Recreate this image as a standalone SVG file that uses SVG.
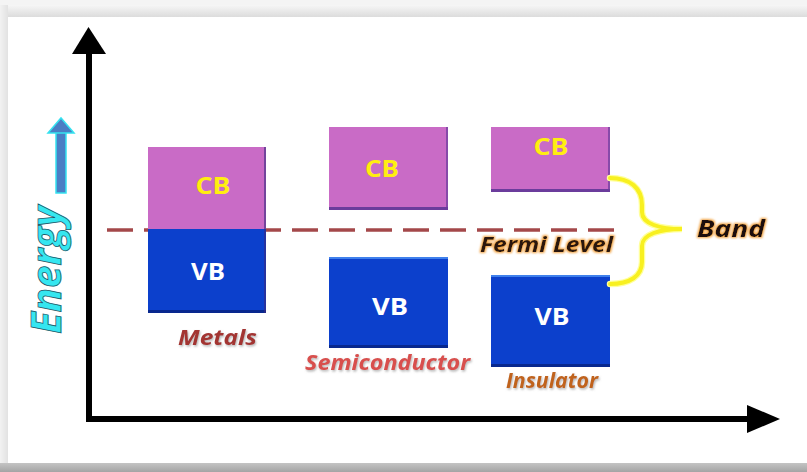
<svg xmlns="http://www.w3.org/2000/svg" width="807" height="472" viewBox="0 0 807 472">
<defs>
<style>
.cb{fill:#c96bc6}
.cbedge{fill:#6b3c9c}
.vb{fill:#0c40cc}
.vbtop{fill:#3f80ec}
.vbedge{fill:#08288e}
.bt{font-family:"Open Sans","DejaVu Sans",sans-serif;font-weight:bold;font-size:24px;text-anchor:middle}
.cbt{fill:#ffee10}
.vbt{fill:#ffffff}
.lab{font-family:"Open Sans","DejaVu Sans",sans-serif;font-weight:bold;font-style:italic;font-size:21px}
.ax{stroke:#000;stroke-width:6;fill:none}
</style>
<linearGradient id="topg" x1="0" y1="0" x2="0" y2="1">
<stop offset="0" stop-color="#f6f6f6"/><stop offset="1" stop-color="#dcdcdc"/>
</linearGradient>
<linearGradient id="botg" x1="0" y1="0" x2="0" y2="1">
<stop offset="0" stop-color="#c4c4c4"/><stop offset="1" stop-color="#a4a4a4"/>
</linearGradient>
<linearGradient id="leftg" x1="0" y1="0" x2="1" y2="0">
<stop offset="0" stop-color="#f2f2f2"/><stop offset="1" stop-color="#e2e2e2"/>
</linearGradient>
<filter id="glow" x="-20%" y="-50%" width="140%" height="200%">
<feMorphology in="SourceAlpha" operator="dilate" radius="1.3" result="d"/>
<feGaussianBlur in="d" stdDeviation="1.3" result="b"/>
<feFlood flood-color="#f2a445" result="c"/>
<feComposite in="c" in2="b" operator="in" result="g"/>
<feMerge><feMergeNode in="g"/><feMergeNode in="SourceGraphic"/></feMerge>
</filter>
<filter id="shadow" x="-10%" y="-30%" width="120%" height="160%">
<feDropShadow dx="1" dy="1.5" stdDeviation="1" flood-color="#777" flood-opacity="0.55"/>
</filter>
</defs>

<g id="background">
<rect x="0" y="0" width="807" height="472" fill="#f4f4f4"/>
<rect x="0" y="5" width="807" height="12" fill="url(#topg)"/>
<rect x="0" y="5" width="8" height="460" fill="url(#leftg)"/>
<rect x="8" y="17" width="799" height="446" fill="#ffffff"/>
<rect x="0" y="463" width="807" height="9" fill="url(#botg)"/>
</g>

<g id="axes">
<line class="ax" x1="89" y1="50" x2="89" y2="421"/>
<polygon points="72,54 88.5,27 106,54" fill="#000"/>
<line class="ax" x1="86" y1="419" x2="750" y2="419"/>
<polygon points="747,405 780,419 747,433" fill="#000"/>
</g>

<g id="energy-label">
<rect x="56" y="132" width="10" height="61" fill="#4a7ec4" stroke="#35e2f0" stroke-width="1.5"/>
<polygon points="48,133 61,118 74,133" fill="#4a7ec4" stroke="#35e2f0" stroke-width="1.5"/>
<text transform="translate(61,334) rotate(-90)" font-family="'Open Sans','DejaVu Sans',sans-serif" font-weight="bold" font-style="italic" font-size="42" fill="#35e6f0" stroke="#1b5a6a" stroke-width="0.8" textLength="128" lengthAdjust="spacingAndGlyphs">Energy</text>
</g>

<g id="fermi-level">
<line x1="107" y1="230" x2="614" y2="230" stroke="#a4484a" stroke-width="3.5" stroke-dasharray="26 11"/>
<text class="lab" x="480" y="252" font-size="22" fill="#2a1608" filter="url(#glow)" textLength="133" lengthAdjust="spacingAndGlyphs">Fermi Level</text>
</g>

<g id="metals">
<rect class="cb" x="148" y="147" width="118" height="82"/>
<rect class="vb" x="148" y="229" width="118" height="84"/>
<rect class="vbedge" x="148" y="310" width="118" height="3"/>
<rect x="264" y="147" width="2" height="166" fill="#3a2a80" opacity="0.6"/>
<text class="bt cbt" x="213" y="194" textLength="35" lengthAdjust="spacingAndGlyphs">CB</text>
<text class="bt vbt" x="208" y="280" textLength="34" lengthAdjust="spacingAndGlyphs">VB</text>
<text class="lab" x="178" y="345" fill="#a33432" filter="url(#shadow)" textLength="79" lengthAdjust="spacingAndGlyphs">Metals</text>
</g>

<g id="semiconductor">
<rect class="cb" x="329" y="127" width="119" height="83"/>
<rect class="cbedge" x="329" y="207" width="119" height="3"/>
<rect x="446" y="127" width="2" height="83" fill="#6b3c9c" opacity="0.7"/>
<rect class="vb" x="329" y="257" width="119" height="91"/>
<rect class="vbtop" x="329" y="257" width="119" height="2"/>
<rect class="vbedge" x="329" y="345" width="119" height="3"/>
<text class="bt cbt" x="382" y="177" textLength="34" lengthAdjust="spacingAndGlyphs">CB</text>
<text class="bt vbt" x="390" y="315" textLength="36" lengthAdjust="spacingAndGlyphs">VB</text>
<text class="lab" x="305" y="370" fill="#d8504e" filter="url(#shadow)" textLength="165" lengthAdjust="spacingAndGlyphs">Semiconductor</text>
</g>

<g id="insulator">
<rect class="cb" x="491" y="127" width="119" height="65"/>
<rect class="cbedge" x="491" y="189" width="119" height="3"/>
<rect x="608" y="127" width="2" height="65" fill="#6b3c9c" opacity="0.7"/>
<rect class="vb" x="491" y="275" width="119" height="92"/>
<rect class="vbtop" x="491" y="275" width="119" height="2"/>
<rect class="vbedge" x="491" y="364" width="119" height="3"/>
<text class="bt cbt" x="551" y="155" textLength="35" lengthAdjust="spacingAndGlyphs">CB</text>
<text class="bt vbt" x="552" y="325" textLength="35" lengthAdjust="spacingAndGlyphs">VB</text>
<text class="lab" x="506" y="388" fill="#c0641e" filter="url(#shadow)" textLength="92" lengthAdjust="spacingAndGlyphs">Insulator</text>
</g>

<g id="connectors">
<path d="M610,178 C630,178 642,188 642,205 L642,212 C642,224 660,229 682,229 C660,229 642,234 642,246 L642,262 C642,276 630,284 610,284" fill="none" stroke="#ffff9a" stroke-width="6.5" stroke-linecap="round"/>
<path d="M610,178 C630,178 642,188 642,205 L642,212 C642,224 660,229 682,229 C660,229 642,234 642,246 L642,262 C642,276 630,284 610,284" fill="none" stroke="#f8f020" stroke-width="4" stroke-linecap="round"/>
</g>

<g id="band-label">
<text x="697" y="237" font-family="'Open Sans','DejaVu Sans',sans-serif" font-weight="bold" font-style="italic" font-size="24" fill="#1e1008" filter="url(#glow)" textLength="68" lengthAdjust="spacingAndGlyphs">Band</text>
</g>
</svg>
